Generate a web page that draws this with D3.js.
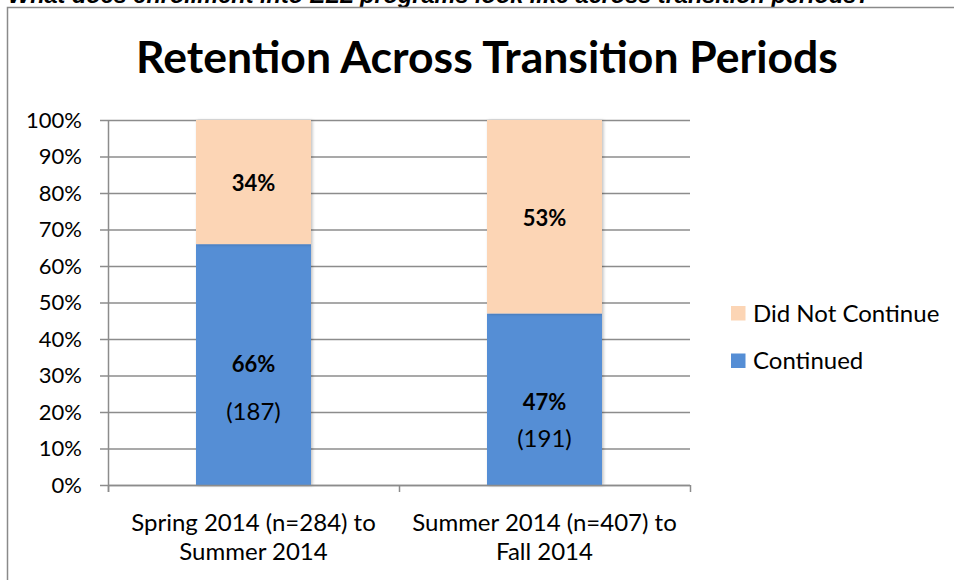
<!DOCTYPE html>
<html>
<head>
<meta charset="utf-8">
<script src="https://cdn.jsdelivr.net/npm/d3@7"></script>
<style>
  html, body { margin: 0; padding: 0; background: #fff; }
  svg { display: block; }
</style>
</head>
<body>
<svg id="chart" width="954" height="580"></svg>
<script>
const categories = [["Spring 2014 (n=284) to", "Summer 2014"], ["Summer 2014 (n=407) to", "Fall 2014"]];
const continued = [66, 47];
const didNotContinue = [34, 53];
const continuedCounts = [187, 191];
const yTicks = [0, 10, 20, 30, 40, 50, 60, 70, 80, 90, 100];
const seriesNames = ["Did Not Continue", "Continued"];
const colors = { "Continued": "#558ED5", "Did Not Continue": "#FCD5B5" };

(function () {
const svg = d3.select("#chart");
const font = "Lato, 'Open Sans', sans-serif";

// Top cropped heading
svg.append("text")
  .attr("x", 8).attr("y", 3)
  .attr("font-family", "'Liberation Sans', Arial, sans-serif")
  .attr("font-weight", "bold").attr("font-style", "italic")
  .attr("font-size", 23.5)
  .attr("fill", "#000")
  .text("What does enrollment into ELL programs look like across transition periods?");

// Frame
svg.append("rect")
  .attr("x", 7.5).attr("y", 7.5).attr("width", 1000).attr("height", 1000)
  .attr("fill", "none").attr("stroke", "#8a8a8a").attr("stroke-width", 1.5);

// Title
svg.append("text")
  .attr("x", 487).attr("y", 73)
  .attr("text-anchor", "middle")
  .attr("font-family", font).attr("font-weight", "bold")
  .attr("font-size", 44.5).attr("fill", "#000")
  .text("Retention Across Transition Periods");

const pl = 108, pr = 690, pt = 120, pb = 485;
const x = d3.scaleBand().domain(d3.range(categories.length)).range([pl, pr]).paddingInner(0).paddingOuter(0);
const y = d3.scaleLinear().domain([0, 100]).range([pb, pt]);

// Gridlines
const g = svg.append("g");
g.selectAll("line.grid").data(yTicks).enter().append("line")
  .attr("x1", pl - 8).attr("x2", pr)
  .attr("y1", d => y(d) + 0.5).attr("y2", d => y(d) + 0.5)
  .attr("stroke", "#8c8c8c").attr("stroke-width", 1.5);

// Y axis labels
g.selectAll("text.ytick").data(yTicks).enter().append("text")
  .attr("x", 82).attr("y", d => y(d))
  .attr("dy", "0.36em")
  .attr("text-anchor", "end")
  .attr("font-family", font).attr("font-size", 22).attr("fill", "#000")
  .text(d => d + "%");

// Shadow filter
const defs = svg.append("defs");
const f = defs.append("filter").attr("id", "sh").attr("x", "-10%").attr("y", "-10%").attr("width", "130%").attr("height", "120%");
f.append("feDropShadow").attr("dx", 1.5).attr("dy", 0.5).attr("stdDeviation", 1.5).attr("flood-color", "#000").attr("flood-opacity", 0.25);

const barW = 115;
const bars = svg.append("g");
categories.forEach((c, i) => {
  const cx = x(i) + x.bandwidth() / 2;
  bars.append("rect")
    .attr("x", cx - barW / 2).attr("width", barW)
    .attr("y", y(continued[i])).attr("height", y(0) - y(continued[i]))
    .attr("fill", colors["Continued"]).attr("filter", "url(#sh)");
  bars.append("rect")
    .attr("x", cx - barW / 2).attr("width", barW)
    .attr("y", y(continued[i] + didNotContinue[i])).attr("height", y(continued[i]) - y(continued[i] + didNotContinue[i]))
    .attr("fill", colors["Did Not Continue"]).attr("filter", "url(#sh)");
});

// Y axis line & x axis
svg.append("line").attr("x1", pl + 0.5).attr("x2", pl + 0.5).attr("y1", pt).attr("y2", pb + 7)
  .attr("stroke", "#8c8c8c").attr("stroke-width", 1.5);
svg.append("line").attr("x1", pl).attr("x2", pr).attr("y1", pb + 0.5).attr("y2", pb + 0.5)
  .attr("stroke", "#8c8c8c").attr("stroke-width", 1.5);
const xt = d3.range(categories.length + 1).map(i => i < categories.length ? x(i) : x(i - 1) + x.bandwidth());
svg.selectAll("line.xt").data(xt).enter().append("line")
  .attr("x1", d => d + 0.5).attr("x2", d => d + 0.5).attr("y1", pb).attr("y2", pb + 7)
  .attr("stroke", "#8c8c8c").attr("stroke-width", 1.5);

// Data labels (layout offsets relative to segment middle)
const pctOffset = [0, 3];
const countOffset = [47, 39];
const labels = svg.append("g").attr("font-family", font).attr("fill", "#000").attr("text-anchor", "middle");
categories.forEach((c, i) => {
  const cx = x(i) + x.bandwidth() / 2;
  const topMid = (y(continued[i]) + y(100)) / 2;
  labels.append("text").attr("x", cx).attr("y", topMid + 1).attr("dy", "0.36em")
    .attr("font-size", 22).attr("font-weight", "bold").text(didNotContinue[i] + "%");
  const botMid = (y(0) + y(continued[i])) / 2;
  labels.append("text").attr("x", cx).attr("y", botMid + pctOffset[i]).attr("dy", "0.36em")
    .attr("font-size", 22).attr("font-weight", "bold").text(continued[i] + "%");
  labels.append("text").attr("x", cx).attr("y", botMid + countOffset[i]).attr("dy", "0.36em")
    .attr("font-size", 24).text("(" + continuedCounts[i] + ")");
});

// Category labels
categories.forEach((c, i) => {
  const cx = x(i) + x.bandwidth() / 2;
  const t = svg.append("text").attr("x", cx).attr("y", 531)
    .attr("text-anchor", "middle").attr("font-family", font).attr("font-size", 24).attr("fill", "#000");
  c.forEach((line, j) => t.append("tspan").attr("x", cx).attr("dy", j === 0 ? 0 : 29).text(line));
});

// Legend
const leg = svg.append("g");
seriesNames.forEach((s, i) => {
  const ly = 313 + i * 47.5;
  leg.append("rect").attr("x", 731).attr("y", ly - 7).attr("width", 14.5).attr("height", 14.5).attr("fill", colors[s]);
  leg.append("text").attr("x", 753).attr("y", ly).attr("dy", "0.36em")
    .attr("font-family", font).attr("font-size", 24).attr("fill", "#000").text(s);
});
})();
</script>
</body>
</html>
